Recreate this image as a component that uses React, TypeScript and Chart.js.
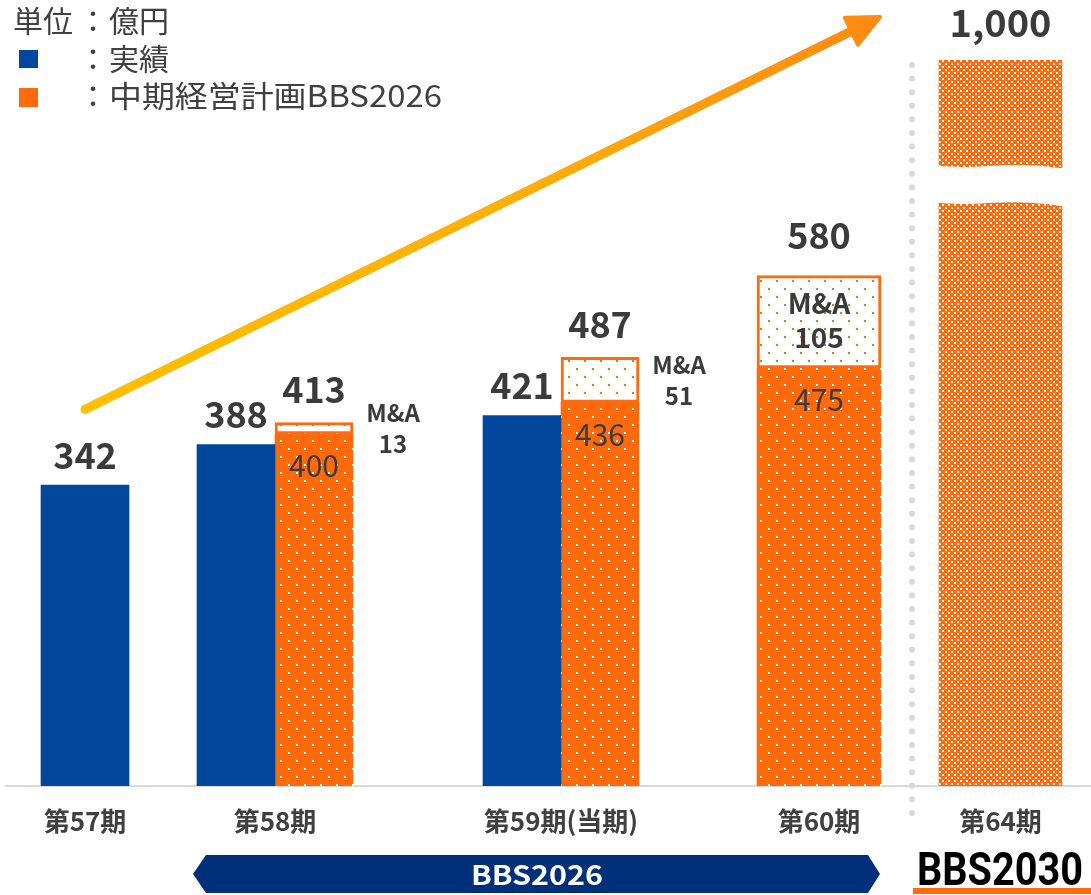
import React, { useEffect, useRef } from 'react';
import { Chart, registerables } from 'chart.js';

Chart.register(...registerables);

// ---------------- data ----------------
const categories = ['第57期', '第58期', '第59期(当期)', '第60期', '第64期'];
const actualValues: (number | null)[] = [342, 388, 421, null, null];
const planBaseValues: (number | null)[] = [null, 400, 436, 475, null];
const maValues: (number | null)[] = [null, 13, 51, 105, null];
const targetValues: (number | null)[] = [null, null, null, null, 1000];
const legendLabels = ['実績', '中期経営計画BBS2026'];
const unitLabel = '単位';
const unitName = '億円';
const maLabel = 'M&A';
const planName = 'BBS2026';
const visionName = 'BBS2030';

// ---------------- layout (axis units) ----------------
const X_MAX = 1085;
const slotCenters = [79, 269, 555, 813, 994.5];
const Y_MAX = 825;
const PAIR_W = 78;
const SINGLE_ACTUAL_W = 88;
const SINGLE_PLAN_W = 124;
const breakRange = [705, 663];
const separatorX = 906;
const arrowStartValue = 428;

// ---------------- styles ----------------
const FONT = '"Noto Sans CJK JP", "Noto Sans", sans-serif';
const BLUE = '#00479D';
const ORANGE = '#FF6A0C';
const NAVY = '#00307A';
const TEXT = '#3B3B3B';

const isPair = (i: number) => actualValues[i] != null && planBaseValues[i] != null;
const actualX = (i: number) => (isPair(i) ? slotCenters[i] - PAIR_W / 2 : slotCenters[i]);
const planX = (i: number) => (isPair(i) ? slotCenters[i] + PAIR_W / 2 : slotCenters[i]);

function points(vals: (number | null)[], xf: (i: number) => number, keep: (i: number) => boolean) {
  const out: { x: number; y: number }[] = [];
  vals.forEach((v, i) => {
    if (v != null && keep(i)) out.push({ x: xf(i), y: v });
  });
  return out;
}

function makePattern(ctx: CanvasRenderingContext2D, w: number, h: number, bg: string, fg: string, rects: number[][]) {
  const c = document.createElement('canvas');
  c.width = w;
  c.height = h;
  const g = c.getContext('2d')!;
  g.fillStyle = bg;
  g.fillRect(0, 0, w, h);
  g.fillStyle = fg;
  rects.forEach(([x, y, rw, rh]) => g.fillRect(x, y, rw, rh));
  return ctx.createPattern(c, 'repeat') as CanvasPattern;
}

function fillFit(ctx: CanvasRenderingContext2D, text: string, x: number, y: number, width: number, align: CanvasTextAlign) {
  const w = ctx.measureText(text).width;
  const s = width / w;
  ctx.save();
  ctx.translate(x, y);
  ctx.scale(s, 1);
  ctx.textAlign = align;
  ctx.fillText(text, 0, 0);
  ctx.restore();
}

export default function App() {
  const ref = useRef<HTMLCanvasElement>(null);

  useEffect(() => {
    const canvas = ref.current!;
    const ctx = canvas.getContext('2d')!;

    const basePattern = makePattern(ctx, 16, 16, ORANGE, '#FFFFFF', [[0, 0, 2, 2], [8, 8, 2, 2]]);
    const maPattern = makePattern(ctx, 16, 16, '#FFFFFF', ORANGE, [[0, 0, 2, 2], [8, 8, 2, 2]]);
    const targetPattern = makePattern(ctx, 6, 6, ORANGE, '#FFFFFF', [[0, 0, 2, 2], [3, 3, 2, 2]]);

    const common = { grouped: false, borderWidth: 0 };

    const decorations = {
      id: 'decorations',
      beforeDatasetsDraw(chart: any) {
        const c = chart.ctx as CanvasRenderingContext2D;
        const xs = chart.scales.x;
        const area = chart.chartArea;
        const sx = xs.getPixelForValue(separatorX);
        c.save();
        c.fillStyle = '#D9D9D9';
        for (let y = area.top + 5; y <= area.bottom + 28; y += 13.6) {
          c.beginPath();
          c.arc(sx, y, 3, 0, Math.PI * 2);
          c.fill();
        }
        c.restore();
      },
      afterDatasetsDraw(chart: any) {
        const c = chart.ctx as CanvasRenderingContext2D;
        const xs = chart.scales.x;
        const ys = chart.scales.y;
        const area = chart.chartArea;
        const px = (v: number) => xs.getPixelForValue(v);
        const py = (v: number) => ys.getPixelForValue(v);

        // break on the long-term target bar
        targetValues.forEach((t, i) => {
          if (t == null) return;
          const cx = px(planX(i));
          const w = SINGLE_PLAN_W;
          const xl = cx - w / 2 - 2;
          const xr = cx + w / 2 + 2;
          const yt = py(breakRange[0]);
          const yb = py(breakRange[1]);
          c.save();
          c.fillStyle = '#FFFFFF';
          c.beginPath();
          c.moveTo(xl, yt);
          c.bezierCurveTo(xl + w * 0.35, yt + 5, xl + w * 0.55, yt - 6, xr, yt + 3);
          c.lineTo(xr, yb + 4);
          c.bezierCurveTo(xl + w * 0.55, yb - 6, xl + w * 0.35, yb + 5, xl, yb);
          c.closePath();
          c.fill();
          c.restore();
        });

        // growth arrow
        const x0 = px(slotCenters[0]);
        const y0 = py(arrowStartValue);
        const x1 = px(874);
        const y1 = area.top - 43;
        const len = Math.hypot(x1 - x0, y1 - y0);
        const dx = (x1 - x0) / len;
        const dy = (y1 - y0) / len;
        const headLen = 32;
        const headHalf = 15;
        const bx = x1 - dx * headLen;
        const by = y1 - dy * headLen;
        const grad = c.createLinearGradient(x0, y0, x1, y1);
        grad.addColorStop(0, '#FFC000');
        grad.addColorStop(0.55, '#FFAE0A');
        grad.addColorStop(1, '#FF8A12');
        c.save();
        c.strokeStyle = grad;
        c.fillStyle = grad;
        c.lineWidth = 9;
        c.lineCap = 'round';
        c.lineJoin = 'round';
        c.beginPath();
        c.moveTo(x0, y0);
        c.lineTo(bx + dx * 4, by + dy * 4);
        c.stroke();
        c.lineWidth = 4;
        c.beginPath();
        c.moveTo(x1, y1);
        c.lineTo(bx - dy * headHalf, by + dx * headHalf);
        c.lineTo(bx + dy * headHalf, by - dx * headHalf);
        c.closePath();
        c.fill();
        c.stroke();
        c.restore();

        // value labels
        c.save();
        c.fillStyle = TEXT;
        c.textAlign = 'center';
        c.textBaseline = 'middle';
        categories.forEach((_, i) => {
          const a = actualValues[i];
          if (a != null) {
            c.font = `bold 36px ${FONT}`;
            c.fillText(String(a), px(actualX(i)), py(a) - 30);
          }
          const b = planBaseValues[i];
          if (b != null) {
            const m = maValues[i] ?? 0;
            const total = b + m;
            const cx = px(planX(i));
            const w = isPair(i) ? PAIR_W : SINGLE_PLAN_W;
            c.font = `bold 36px ${FONT}`;
            c.fillText(String(total), cx, py(total) - (m > 60 ? 40 : 33));
            c.font = `30px ${FONT}`;
            c.fillText(String(b), cx, py(b) + 32);
            if (m) {
              const top = py(total);
              const bot = py(b);
              const mid = (top + bot) / 2;
              if (bot - top > 60) {
                c.font = `bold 28px ${FONT}`;
                c.fillText(maLabel, cx, mid - 18);
                c.fillText(String(m), cx, mid + 16);
              } else {
                c.font = `bold 24px ${FONT}`;
                const lx = cx + w / 2 + 40;
                c.fillText(maLabel, lx, mid - 15);
                c.fillText(String(m), lx, mid + 16);
              }
            }
          }
          const t = targetValues[i];
          if (t != null) {
            c.font = `bold 38px ${FONT}`;
            c.fillText(t.toLocaleString('en-US'), px(planX(i)), area.top - 37);
          }
        });
        c.restore();
      },
      afterDraw(chart: any) {
        const c = chart.ctx as CanvasRenderingContext2D;
        c.save();
        // unit + legend
        c.fillStyle = '#404040';
        c.textBaseline = 'middle';
        c.font = `30px ${FONT}`;
        c.textAlign = 'left';
        c.fillText(unitLabel, 13, 21);
        c.textAlign = 'center';
        c.fillText('：', 93, 21);
        c.textAlign = 'left';
        c.fillText(unitName, 109, 21);

        c.fillStyle = BLUE;
        c.fillRect(19, 50, 19, 18);
        c.fillStyle = ORANGE;
        c.fillRect(19, 88, 19, 19);

        c.fillStyle = '#404040';
        c.textAlign = 'center';
        c.fillText('：', 93, 59);
        c.fillText('：', 93, 96);
        c.textAlign = 'left';
        c.fillText(legendLabels[0], 109, 59);
        fillFit(c, legendLabels[1], 109, 96, 333, 'left');

        // BBS2026 banner
        c.fillStyle = NAVY;
        c.beginPath();
        c.moveTo(193, 874);
        c.lineTo(206, 855);
        c.lineTo(868, 855);
        c.lineTo(880, 874);
        c.lineTo(868, 893);
        c.lineTo(206, 893);
        c.closePath();
        c.fill();
        c.fillStyle = '#FFFFFF';
        c.font = `bold 27px ${FONT}`;
        c.textBaseline = 'middle';
        fillFit(c, planName, 537, 875, 132, 'center');

        // BBS2030 mark
        c.fillStyle = '#000000';
        c.font = 'bold 46px Roboto, "Liberation Sans", sans-serif';
        c.textBaseline = 'alphabetic';
        fillFit(c, visionName, 917, 885, 166, 'left');
        c.fillStyle = ORANGE;
        c.fillRect(913, 888, 178, 6);
        c.restore();
      },
    };

    const chart = new Chart(ctx, {
      type: 'bar',
      data: {
        datasets: [
          { ...common, label: legendLabels[0], data: points(actualValues, actualX, isPair), backgroundColor: BLUE, barThickness: PAIR_W },
          { ...common, label: legendLabels[0], data: points(actualValues, actualX, (i) => !isPair(i)), backgroundColor: BLUE, barThickness: SINGLE_ACTUAL_W },
          { ...common, label: legendLabels[1], data: points(planBaseValues, planX, isPair), backgroundColor: basePattern, barThickness: PAIR_W },
          { ...common, label: legendLabels[1], data: points(planBaseValues, planX, (i) => !isPair(i)), backgroundColor: basePattern, barThickness: SINGLE_PLAN_W },
          { ...common, label: maLabel, data: points(maValues, planX, isPair), backgroundColor: maPattern, borderColor: ORANGE, borderWidth: 3, borderSkipped: false, barThickness: PAIR_W },
          { ...common, label: maLabel, data: points(maValues, planX, (i) => !isPair(i)), backgroundColor: maPattern, borderColor: ORANGE, borderWidth: 3, borderSkipped: false, barThickness: SINGLE_PLAN_W },
          { ...common, label: visionName, data: points(targetValues, planX, () => true), backgroundColor: targetPattern, barThickness: SINGLE_PLAN_W - 1, clip: 0 },
        ] as any,
      },
      options: {
        responsive: false,
        animation: false,
        events: [],
        layout: { padding: { top: 60, left: 6, right: 0, bottom: 0 } },
        plugins: {
          legend: { display: false },
          tooltip: { enabled: false },
          title: { display: false },
        },
        scales: {
          x: {
            type: 'linear',
            min: 0,
            max: X_MAX,
            offset: false,
            grid: { display: false, drawTicks: false },
            border: { display: true, color: '#D9D9D9', width: 2 },
            afterBuildTicks: (s: any) => {
              s.ticks = slotCenters.map((v) => ({ value: v }));
            },
            afterFit: (s: any) => {
              s.height = 109;
            },
            ticks: {
              autoSkip: false,
              maxRotation: 0,
              minRotation: 0,
              padding: 20,
              color: '#404040',
              font: { family: FONT, size: 26, weight: 'bold' },
              callback: (v: any) => {
                const i = slotCenters.indexOf(Number(v));
                return i >= 0 ? categories[i] : '';
              },
            },
          },
          y: { display: false, stacked: true, min: 0, max: Y_MAX },
        },
      } as any,
      plugins: [decorations],
    });

    return () => chart.destroy();
  }, []);

  return (
    <div style={{ position: 'absolute', left: 0, top: 0, width: 1091, height: 895, background: '#FFFFFF' }}>
      <canvas ref={ref} width={1091} height={895} style={{ display: 'block' }} />
    </div>
  );
}
